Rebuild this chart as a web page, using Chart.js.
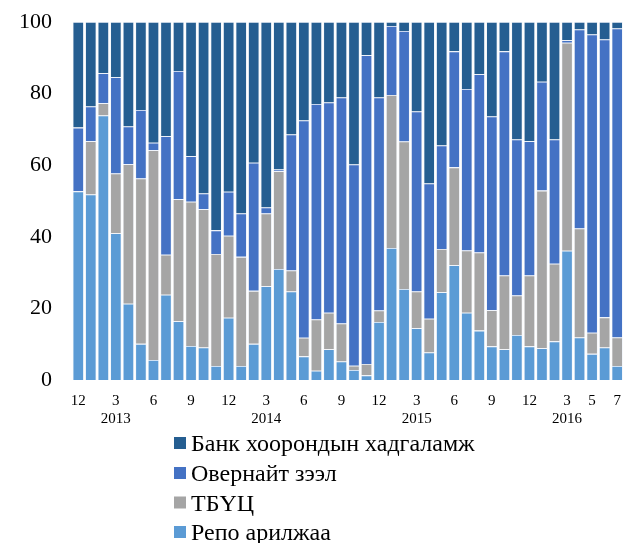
<!DOCTYPE html>
<html>
<head>
<meta charset="utf-8">
<script src="https://cdn.jsdelivr.net/npm/chart.js@4"></script>
<style>
  html, body { margin: 0; padding: 0; background: #fff; }
  #wrap { width: 633px; height: 543px; position: relative; }
</style>
</head>
<body>
<div id="wrap"><canvas id="c" width="633" height="543"></canvas></div>
<script>
const categories = [
  '2012-12',
  '2013-01','2013-02','2013-03','2013-04','2013-05','2013-06','2013-07','2013-08','2013-09','2013-10','2013-11','2013-12',
  '2014-01','2014-02','2014-03','2014-04','2014-05','2014-06','2014-07','2014-08','2014-09','2014-10','2014-11','2014-12',
  '2015-01','2015-02','2015-03','2015-04','2015-05','2015-06','2015-07','2015-08','2015-09','2015-10','2015-11','2015-12',
  '2016-01','2016-02','2016-03','2016-04','2016-05','2016-06','2016-07'
];
const monthTicks = ['12','','','3','','','6','','','9','','','12','','','3','','','6','','','9','','','12','','','3','','','6','','','9','','','12','','','3','','5','','7'];
const yearTicks  = ['','','','2013','','','','','','','','','','','','2014','','','','','','','','','','','','2015','','','','','','','','','','','','2016','','','',''];
const yTicks = [0, 20, 40, 60, 80, 100];

const seriesNames = ['Репо арилжаа', 'ТБҮЦ', 'Овернайт зээл', 'Банк хоорондын хадгаламж'];

const repo = [52.7, 51.8, 73.9, 41.0, 21.3, 10.1, 5.6, 23.8, 16.4, 9.5, 9.1, 3.9, 17.4,
  3.9, 10.1, 26.2, 31.0, 24.7, 6.6, 2.6, 8.6, 5.2, 2.8, 1.3, 16.2,
  36.9, 25.4, 14.5, 7.7, 24.5, 32.1, 18.8, 13.8, 9.4, 8.6, 12.6, 9.4,
  8.9, 10.8, 36.1, 11.9, 7.3, 9.1, 3.9];
const tbuc = [0.0, 14.9, 3.4, 16.7, 39.0, 46.2, 58.6, 11.2, 34.1, 40.3, 38.6, 31.3, 22.9,
  30.5, 14.8, 20.3, 27.3, 5.9, 5.2, 14.3, 10.2, 10.6, 1.2, 3.2, 3.2,
  42.7, 41.2, 10.2, 9.4, 12.1, 27.3, 17.4, 21.8, 10.1, 20.6, 11.0, 19.8,
  44.0, 21.7, 58.1, 30.4, 5.9, 8.4, 8.0];
const overnight = [17.8, 9.7, 8.4, 26.9, 10.5, 19.1, 2.1, 33.1, 35.8, 12.7, 4.4, 6.6, 12.3,
  12.1, 35.8, 1.7, 0.5, 38.0, 60.7, 60.2, 58.7, 63.1, 56.2, 86.2, 59.5,
  19.3, 30.9, 50.3, 37.8, 28.9, 32.4, 45.1, 49.8, 54.1, 62.6, 43.6, 37.5,
  30.4, 34.7, 0.7, 55.6, 83.3, 77.6, 86.3];
const interbank = [29.5, 23.6, 14.3, 15.4, 29.2, 24.6, 33.7, 31.9, 13.7, 37.5, 47.9, 58.2, 47.4,
  53.5, 39.3, 51.8, 41.2, 31.4, 27.5, 22.9, 22.5, 21.1, 39.8, 9.3, 21.1,
  1.1, 2.5, 25.0, 45.1, 34.5, 8.2, 18.7, 14.6, 26.4, 8.2, 32.8, 33.3,
  16.7, 32.8, 5.1, 2.1, 3.5, 4.9, 1.8];

const colors = ['#5B9BD5', '#A5A5A5', '#4472C4', '#255E91'];
const seriesData = [repo, tbuc, overnight, interbank];

const FONT = "'Liberation Serif', 'Times New Roman', serif";

const legendPlugin = {
  id: 'vlegend',
  afterDraw(chart) {
    const ctx = chart.ctx;
    ctx.save();
    ctx.font = '24px ' + FONT;
    ctx.textBaseline = 'middle';
    ctx.textAlign = 'left';
    const ds = chart.data.datasets;
    const rowY = [444, 474, 503.5, 533];
    for (let i = 0; i < ds.length; i++) {
      const d = ds[ds.length - 1 - i];
      const y = rowY[i];
      ctx.fillStyle = d.backgroundColor;
      ctx.fillRect(174, y - 7, 12, 12);
      ctx.fillStyle = '#000';
      ctx.fillText(d.label, 191, y + 1);
    }
    ctx.restore();
  }
};

new Chart(document.getElementById('c'), {
  type: 'bar',
  data: {
    labels: categories,
    datasets: seriesData.map((arr, i) => ({
      label: seriesNames[i],
      data: arr,
      backgroundColor: colors[i],
      borderColor: 'rgba(235,240,248,0.75)',
      borderWidth: 0.8,
      categoryPercentage: 1.0,
      barPercentage: 0.9,
      xAxisID: 'x'
    }))
  },
  options: {
    responsive: false,
    animation: false,
    devicePixelRatio: 1,
    layout: { padding: { left: 0, right: 6.6, top: 22, bottom: 113 } },
    plugins: {
      legend: { display: false },
      tooltip: { enabled: false }
    },
    scales: {
      x: {
        type: 'category',
        stacked: true,
        offset: true,
        position: 'bottom',
        border: { display: false },
        grid: { display: false, drawTicks: false, offset: true },
        ticks: {
          autoSkip: false, maxRotation: 0, minRotation: 0, padding: 12,
          color: '#000', font: { family: FONT, size: 15 },
          callback: (v, i) => monthTicks[i]
        },
        afterFit: s => { s.height = 28; }
      },
      x2: {
        type: 'category',
        offset: true,
        position: 'bottom',
        border: { display: false },
        grid: { display: false, drawTicks: false, offset: true },
        ticks: {
          autoSkip: false, maxRotation: 0, minRotation: 0, padding: 2,
          color: '#000', font: { family: FONT, size: 15 },
          callback: (v, i) => yearTicks[i]
        },
        afterFit: s => { s.height = 22; }
      },
      y: {
        stacked: true,
        min: 0, max: 100,
        border: { display: false },
        grid: { display: false, drawTicks: false },
        afterBuildTicks: s => { s.ticks = yTicks.map(v => ({ value: v })); },
        ticks: {
          padding: 20,
          color: '#000', font: { family: FONT, size: 22 }
        },
        afterFit: s => { s.width = 72; s.paddingTop = 0; s.paddingBottom = 0; }
      }
    }
  },
  plugins: [legendPlugin]
});
</script>
</body>
</html>
